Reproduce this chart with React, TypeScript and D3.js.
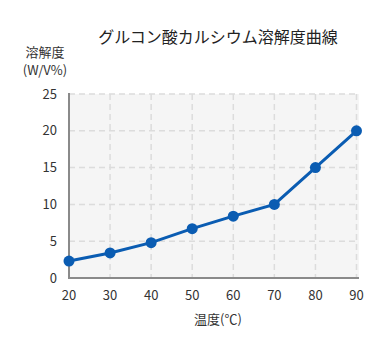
import React from "react";
import * as d3 from "d3";

const temps = [20, 30, 40, 50, 60, 70, 80, 90];
const solubility = [2.3, 3.4, 4.8, 6.7, 8.4, 10, 15, 20];
const yTicks = [0, 5, 10, 15, 20, 25];

const title = "グルコン酸カルシウム溶解度曲線";
const yLabel = ["溶解度", "(W/V%)"];
const xLabel = "温度(℃)";

const W = 384;
const H = 339;
const margin = { top: 94, right: 27.5, bottom: 61, left: 69 };
const font = "'Noto Sans CJK JP', 'Noto Sans', sans-serif";

const App = () => {
  const x = d3.scaleLinear().domain([20, 90]).range([margin.left, W - margin.right]);
  const y = d3.scaleLinear().domain([0, 25]).range([H - margin.bottom, margin.top]);

  const line = d3
    .line<number>()
    .x((d, i) => x(temps[i]))
    .y((d) => y(d));

  const x0 = x(20);
  const x1 = x(90) + 2.5;
  const y0 = y(0);
  const y1 = y(25);

  return (
    <svg
      width={W}
      height={H}
      style={{ position: "absolute", left: 0, top: 0, background: "#fff" }}
      fontFamily={font}
    >
      <rect x={x0} y={y1} width={x1 - x0} height={y0 - y1} fill="#f5f5f5" />
      {/* grid */}
      {yTicks.map((t) => (
        <line key={"gy" + t} x1={x0} x2={x1} y1={y(t)} y2={y(t)}
          stroke="#dcdcdc" strokeWidth={1.5} strokeDasharray="6,4" />
      ))}
      {temps.map((t) => (
        <line key={"gx" + t} x1={x(t)} x2={x(t)} y1={y1} y2={y0}
          stroke="#dcdcdc" strokeWidth={1.5} strokeDasharray="6,4" />
      ))}
      {/* axes */}
      <line x1={x0} x2={x0} y1={y1 - 1} y2={y0 + 1} stroke="#8a8a8a" strokeWidth={2} />
      <line x1={x0 - 1} x2={x1} y1={y0} y2={y0} stroke="#8a8a8a" strokeWidth={2} />
      {yTicks.map((t) => (
        <text key={"ty" + t} x={57} y={y(t) + 4.5} textAnchor="end" fontSize={13} fill="#333">
          {t}
        </text>
      ))}
      {temps.map((t) => (
        <text key={"tx" + t} x={x(t)} y={300} textAnchor="middle" fontSize={13} fill="#333">
          {t}
        </text>
      ))}
      {/* series */}
      <path d={line(solubility) || ""} fill="none" stroke="#0a5cb2" strokeWidth={3} />
      {solubility.map((v, i) => (
        <circle key={"p" + i} cx={x(temps[i])} cy={y(v)} r={5.5} fill="#0a5cb2" />
      ))}
      {/* labels */}
      <text x={218} y={43} textAnchor="middle" fontSize={16} fill="#222">{title}</text>
      <text x={45} y={57} textAnchor="middle" fontSize={13} fill="#333">{yLabel[0]}</text>
      <text x={45} y={75} textAnchor="middle" fontSize={13} fill="#333">{yLabel[1]}</text>
      <text x={218} y={324} textAnchor="middle" fontSize={13} fill="#333">{xLabel}</text>
    </svg>
  );
};

export default App;
